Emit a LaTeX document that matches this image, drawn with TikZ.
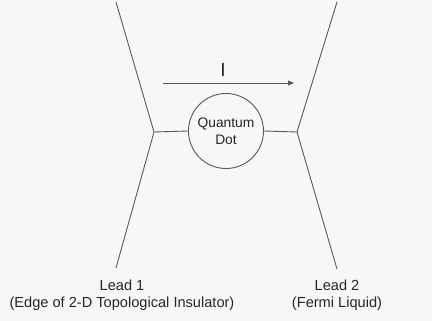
\documentclass[tikz,border=0pt]{standalone}
\usepackage{fontspec}
\setmainfont{Liberation Sans}
\usetikzlibrary{arrows.meta}
\begin{document}
\begin{tikzpicture}[x=1pt,y=-1pt,
  wire/.style={draw=black!65,line width=0.9pt},
  lbl/.style={font=\fontsize{14.6}{17}\selectfont,align=center,inner sep=0pt,text=black!85}]
\fill[black!3] (0,0) rectangle (432,321);
\useasboundingbox (0,0) rectangle (432,321);
% leads
\coordinate (l1t) at (116,2);
\coordinate (l1v) at (154,132);
\coordinate (l1b) at (116,268);
\coordinate (l2t) at (337,2);
\coordinate (l2v) at (297,132);
\coordinate (l2b) at (337,269);
\node[circle,wire,minimum size=75pt,inner sep=0pt,align=center,
  font=\fontsize{13.8}{17}\selectfont,text=black!85] (qd) at (226,131) {Quantum\\Dot};
\draw[wire] (l1t) -- (l1v) -- (l1b);
\draw[wire] (l2t) -- (l2v) -- (l2b);
\draw[wire] (l1v) -- (qd.west);
\draw[wire] (qd.east) -- (l2v);
% current arrow
\coordinate (as) at (163,83);
\coordinate (ae) at (294,83);
\draw[wire,-{Triangle[length=6pt,width=5pt]}] (as) -- (ae);
\node[font=\fontsize{19}{22}\selectfont,inner sep=0pt,text=black!85] (cur) at (223,70) {I};
% labels
\node[lbl,anchor=north] (lab1) at (122,280) {Lead 1\\(Edge of 2-D Topological Insulator)};
\node[lbl,anchor=north] (lab2) at (337,280) {Lead 2\\(Fermi Liquid)};
\end{tikzpicture}
\end{document}
